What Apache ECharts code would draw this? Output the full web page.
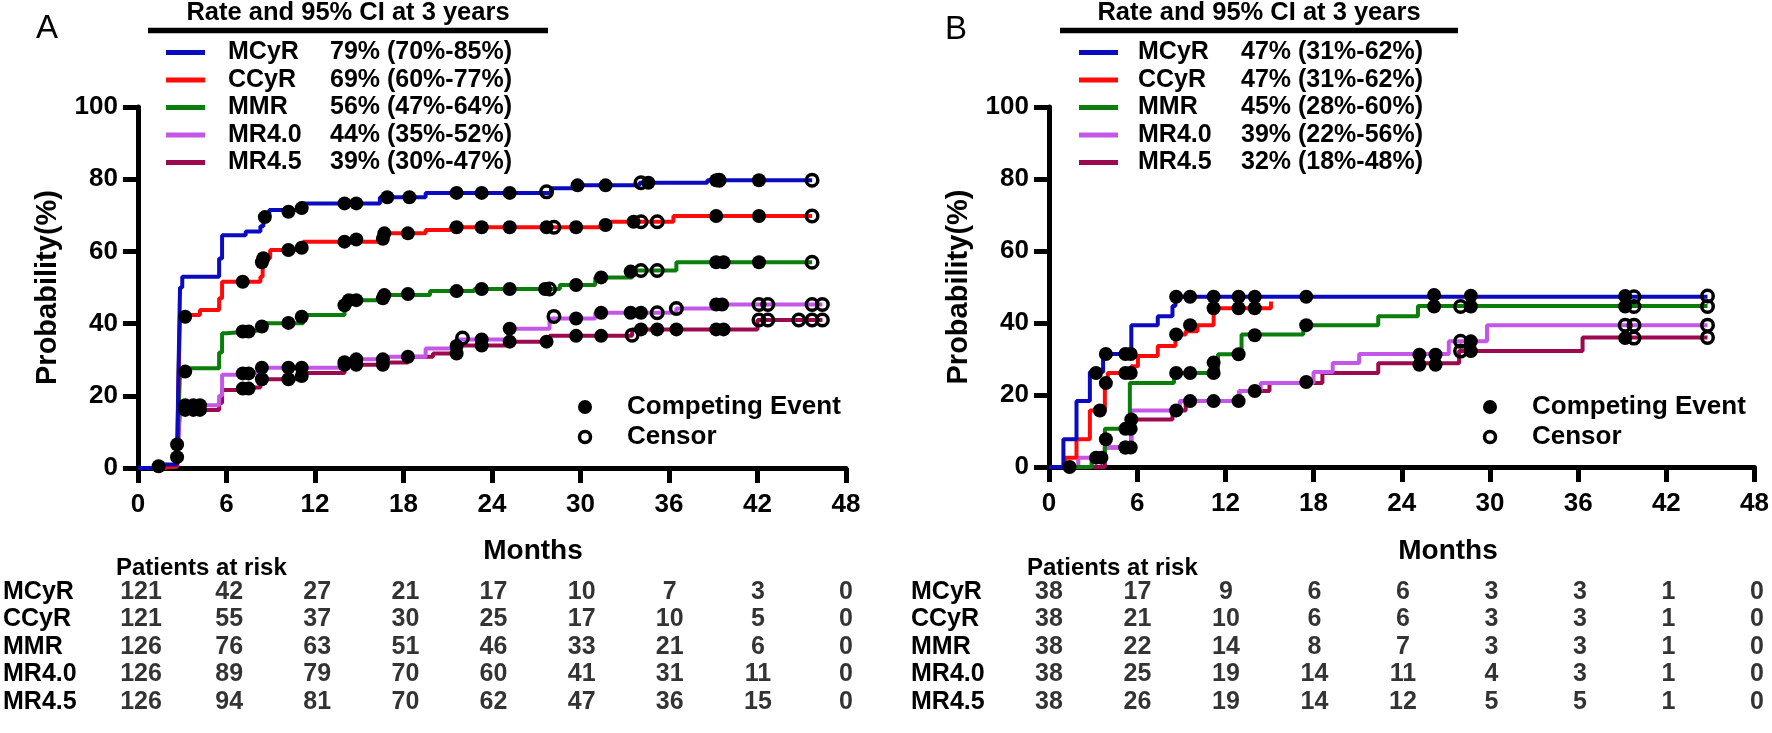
<!DOCTYPE html>
<html><head><meta charset="utf-8">
<script src="https://cdn.jsdelivr.net/npm/echarts@6/dist/echarts.min.js"></script>
<style>html,body{margin:0;padding:0;background:#fff}#c{width:1772px;height:733px}</style>
</head><body><div id="c"></div>
<script>
// ---------- data ----------
const groups = ['MCyR', 'CCyR', 'MMR', 'MR4.0', 'MR4.5'];
const groupColors = ['#0A0ABE', '#FF0A0A', '#0A7D0A', '#C457E8', '#9B0A4E'];
const xTicks = [0, 6, 12, 18, 24, 30, 36, 42, 48];
const rateA = ['79% (70%-85%)', '69% (60%-77%)', '56% (47%-64%)', '44% (35%-52%)', '39% (30%-47%)'];
const rateB = ['47% (31%-62%)', '47% (31%-62%)', '45% (28%-60%)', '39% (22%-56%)', '32% (18%-48%)'];

// Patients at risk (panel A)
const riskA_MCyR = [121, 42, 27, 21, 17, 10, 7, 3, 0];
const riskA_CCyR = [121, 55, 37, 30, 25, 17, 10, 5, 0];
const riskA_MMR  = [126, 76, 63, 51, 46, 33, 21, 6, 0];
const riskA_MR40 = [126, 89, 79, 70, 60, 41, 31, 11, 0];
const riskA_MR45 = [126, 94, 81, 70, 62, 47, 36, 15, 0];
// Patients at risk (panel B)
const riskB_MCyR = [38, 17, 9, 6, 6, 3, 3, 1, 0];
const riskB_CCyR = [38, 21, 10, 6, 6, 3, 3, 1, 0];
const riskB_MMR  = [38, 22, 14, 8, 7, 3, 3, 1, 0];
const riskB_MR40 = [38, 25, 19, 14, 11, 4, 3, 1, 0];
const riskB_MR45 = [38, 26, 19, 14, 12, 5, 5, 1, 0];

// ---- Panel A curves [month, %] ----
const A_MCyR_curve = [[0,0],[1.4,1],[2.65,3],[2.75,28],[2.85,50],[3.0,53],[5.5,58],[5.7,64.5],[7.3,65.5],[8.3,67],[8.5,70],[8.9,71.5],[11.1,73.3],[16.4,75],[19.5,76.2],[28,77.5],[30,78.3],[34,79],[38.6,79.7],[45.7,79.7]];
const A_MCyR_events = [[1.4,0.5],[2.65,3],[2.65,6.5],[8.6,69.5],[10.2,71],[11.1,72],[14.0,73.3],[14.8,73.3],[16.9,75],[18.4,75],[21.6,76.2],[23.3,76.2],[25.2,76.2],[29.8,78.3],[31.7,78.3],[34.6,79],[39.2,79.7],[42.1,79.7]];
const A_MCyR_censor = [[27.7,76.5],[34.1,79],[39.4,79.7],[45.7,79.7]];

const A_CCyR_curve = [[0,0],[1.4,0.5],[2.65,2],[2.75,25],[2.85,42.4],[4.2,43.8],[5.5,47],[5.7,51.6],[8.3,53],[8.45,58.1],[8.96,60.4],[11.2,62.7],[16.4,65],[19.5,65.9],[21.2,66.7],[31.8,68.2],[36.3,69.8],[45.7,69.8]];
const A_CCyR_events = [[3.2,41.9],[7.1,51.6],[8.4,57],[8.5,58.1],[10.2,60.4],[11.1,61],[14.0,62.7],[14.8,63.3],[16.6,63.5],[16.7,65],[18.3,65],[21.6,66.7],[23.3,66.7],[25.2,66.7],[27.7,66.7],[29.7,66.7],[31.7,67.3],[33.6,68.2],[39.2,69.8],[42.1,69.8]];
const A_CCyR_censor = [[28.2,66.7],[34.1,68.2],[35.2,68.2],[45.7,69.8]];

const A_MMR_curve = [[0,0],[1.4,0.5],[2.65,2],[2.75,15],[2.85,26.7],[3.4,27.6],[5.5,32],[5.7,37.3],[6.0,37.8],[7.5,38.3],[8.6,40.1],[11.2,42.4],[14.0,45.1],[14.3,46.5],[16.6,47.9],[19.8,49],[22.8,49.6],[28.6,50.7],[31.0,52.8],[33.5,54.7],[36.5,57.0],[45.7,57.0]];
const A_MMR_events = [[3.2,26.7],[7.1,37.8],[7.5,37.8],[8.4,39.2],[10.2,40.2],[11.1,41.9],[14.0,45.1],[14.3,46.5],[14.8,46.5],[16.6,47],[16.7,47.9],[18.3,48.2],[21.6,49],[23.3,49.6],[25.2,49.6],[27.6,49.6],[29.7,50.7],[31.4,52.8],[33.4,54.4],[39.2,57],[39.7,57],[42.1,57]];
const A_MMR_censor = [[27.9,49.6],[34.1,54.7],[35.2,54.7],[45.7,57]];

const A_MR40_curve = [[0,0],[1.4,0.5],[2.65,2],[2.75,10],[2.85,17.4],[5.5,20],[5.7,25.8],[6.8,26.4],[8.3,27.8],[14.0,29.3],[14.2,30.1],[16.9,30.8],[19.5,33.1],[21.6,35.6],[25.1,38.6],[27.9,41.4],[31.0,43.0],[36.5,44.2],[39.0,45.3],[46.4,45.3]];
const A_MR40_events = [[3.2,17.4],[3.75,17.4],[4.2,17.4],[7.1,26.2],[7.5,26.2],[8.4,27.8],[10.2,27.8],[11.1,27.8],[14.0,29.3],[14.8,30.1],[16.6,30.1],[18.3,30.8],[21.6,33.8],[23.3,35.6],[25.2,38.6],[29.7,41.4],[31.4,43],[33.4,43],[34.1,43],[39.2,45.3],[39.6,45.3]];
const A_MR40_censor = [[22.0,36],[28.2,42],[35.2,43],[36.5,44.2],[42.1,45.3],[42.7,45.3],[45.7,45.3],[46.4,45.3]];

const A_MR45_curve = [[0,0],[1.4,0.5],[2.65,2],[2.75,9],[2.85,16.1],[5.5,18],[5.7,21.6],[6.8,22.3],[8.3,24.6],[11.2,26.3],[14.0,28.6],[16.9,29.2],[18.3,30.8],[20.0,31.7],[21.5,33.9],[25.2,35.0],[27.9,36.6],[33.5,38.4],[42.0,41.0],[46.4,41.0]];
const A_MR45_events = [[3.2,16.1],[3.75,16.1],[4.2,16.1],[7.1,22],[7.5,22],[8.4,24.6],[10.2,24.6],[11.1,25.5],[14.0,28.6],[14.8,28.6],[16.6,28.6],[21.6,31.7],[23.3,33.9],[25.2,35],[27.7,35],[29.7,36.6],[31.4,36.6],[34.1,38.4],[35.2,38.4],[36.5,38.4],[39.2,38.4],[39.7,38.4]];
const A_MR45_censor = [[33.5,36.8],[42.1,41],[42.7,41],[44.8,41],[45.7,41],[46.4,41]];

// ---- Panel B curves ----
const B_MCyR_curve = [[0,0],[0.98,7.7],[1.87,18.3],[2.78,26.4],[3.68,31.4],[5.6,39.4],[7.4,41.9],[8.4,44.7],[8.6,47.3],[44.8,47.3]];
const B_MCyR_events = [[3.87,31.4],[5.2,31.4],[5.56,31.4],[8.65,47.3],[9.6,47.3],[11.2,47.3],[12.9,47.3],[14.0,47.3],[17.5,47.3],[26.2,47.8],[28.7,47.6],[39.2,47.5]];
const B_MCyR_censor = [[39.8,47.3],[44.8,47.5]];

const B_CCyR_curve = [[0,0],[1.08,2.6],[1.87,7.7],[2.78,15.7],[3.8,23.3],[4.0,26.1],[5.6,28],[6.05,30.8],[7.4,33.6],[8.6,36.8],[9.3,37.7],[10.1,39.4],[11.2,44.1],[15.1,46]];
const B_CCyR_events = [[3.2,26.1],[3.46,15.7],[3.87,23.3],[5.2,26.1],[5.56,26.1],[8.65,36.8],[9.6,39.4],[11.2,44.1],[12.9,44.1],[14.0,44.1]];
const B_CCyR_censor = [];

const B_MMR_curve = [[0,0],[2.9,2.6],[3.8,10.6],[5.5,23.3],[8.5,26.1],[11.5,31.3],[13.1,36.8],[17.3,39.4],[22.4,41.9],[25.1,44.7],[44.8,44.7]];
const B_MMR_events = [[1.4,0],[3.2,2.6],[3.57,2.6],[3.87,7.7],[5.2,10.6],[5.56,10.6],[5.6,13.2],[8.65,26.1],[9.6,26.1],[11.2,26.1],[11.2,29],[12.9,31.3],[14.0,36.6],[17.5,39.4],[26.2,44.6],[28.7,44.6],[39.2,44.6]];
const B_MMR_censor = [[28.0,44.6],[39.8,44.6],[44.8,44.6]];

const B_MR40_curve = [[0,0],[1.99,2.6],[3.8,5.4],[5.6,15.7],[8.9,18.3],[12.95,21.1],[14.4,23.3],[18.0,26.4],[19.3,28.9],[21.1,31.4],[27.2,34.9],[29.8,39.4],[44.8,39.4]];
const B_MR40_events = [[5.2,5.4],[5.56,5.4],[8.65,15.7],[9.6,18.3],[11.2,18.3],[12.9,18.3],[14.0,21.1],[17.5,23.6],[25.2,31.2],[26.3,31.2],[28.7,34.9]];
const B_MR40_censor = [[28.0,34.9],[39.2,39.4],[39.8,39.4],[44.8,39.4]];

const B_MR45_curve = [[0,0],[3.8,5.4],[5.6,13.2],[8.4,15.7],[9.3,18.3],[12.95,21.1],[15.0,23.3],[18.6,26.1],[22.4,28.8],[27.9,32.2],[36.3,36.0],[44.8,36.0]];
const B_MR45_events = [[5.2,5.4],[25.2,28.4],[26.3,28.4],[28.7,32.2],[39.2,35.8]];
const B_MR45_censor = [[28.0,32.2],[39.8,35.8],[44.8,36.0]];

// ---------- build ----------
const FONT = '"Liberation Sans", Arial, sans-serif';
const curvesA = [A_MCyR_curve, A_CCyR_curve, A_MMR_curve, A_MR40_curve, A_MR45_curve];
const eventsA = [A_MCyR_events, A_CCyR_events, A_MMR_events, A_MR40_events, A_MR45_events];
const censorA = [A_MCyR_censor, A_CCyR_censor, A_MMR_censor, A_MR40_censor, A_MR45_censor];
const curvesB = [B_MCyR_curve, B_CCyR_curve, B_MMR_curve, B_MR40_curve, B_MR45_curve];
const eventsB = [B_MCyR_events, B_CCyR_events, B_MMR_events, B_MR40_events, B_MR45_events];
const censorB = [B_MCyR_censor, B_CCyR_censor, B_MMR_censor, B_MR40_censor, B_MR45_censor];
const riskA = [riskA_MCyR, riskA_CCyR, riskA_MMR, riskA_MR40, riskA_MR45];
const riskB = [riskB_MCyR, riskB_CCyR, riskB_MMR, riskB_MR40, riskB_MR45];

const PLOT_TOP = 107, PLOT_H = 361, PLOT_W = 708;
const LEFT_A = 138, LEFT_B = 1049;

function plotXAxis(gi) {
  return {
    gridIndex: gi, type: 'value', min: 0, max: 48, interval: 6,
    axisLine: { show: true, lineStyle: { color: '#000', width: 5 } },
    axisTick: { show: true, length: 15, lineStyle: { color: '#000', width: 5 } },
    axisLabel: { color: '#000', fontSize: 26, fontWeight: 'bold', fontFamily: FONT, margin: 24 },
    splitLine: { show: false }
  };
}
function plotYAxis(gi) {
  return {
    gridIndex: gi, type: 'value', min: 0, max: 100, interval: 20,
    axisLine: { show: true, lineStyle: { color: '#000', width: 5 } },
    axisTick: { show: true, length: 15, lineStyle: { color: '#000', width: 5 } },
    axisLabel: { color: '#000', fontSize: 26, fontWeight: 'bold', fontFamily: FONT, margin: 20 },
    splitLine: { show: false },
    name: 'Probability(%)', nameLocation: 'middle', nameGap: 76, nameRotate: 90,
    nameTextStyle: { color: '#000', fontSize: 29, fontWeight: 'bold', fontFamily: FONT }
  };
}
function tableXAxis(gi) {
  return { gridIndex: gi, type: 'value', min: 0, max: 48, show: false };
}
function tableYAxis(gi) {
  return {
    gridIndex: gi, type: 'category', data: groups, inverse: true,
    axisLine: { show: false }, axisTick: { show: false }, splitLine: { show: false },
    axisLabel: { interval: 0, align: 'left', margin: 138, color: '#000', fontSize: 25, fontWeight: 'bold', fontFamily: FONT }
  };
}

const series = [];
function addPanel(gi, curves, events, censors) {
  for (let i = groups.length - 1; i >= 0; i--) {
    series.push({
      type: 'line', xAxisIndex: gi, yAxisIndex: gi, data: curves[i], step: 'end',
      showSymbol: false, symbol: 'none', clip: false, silent: true, z: 2,
      lineStyle: { color: groupColors[i], width: 4 }
    });
  }
  for (let i = 0; i < groups.length; i++) {
    series.push({
      type: 'scatter', xAxisIndex: gi, yAxisIndex: gi, data: events[i], symbol: 'circle',
      symbolSize: 14, clip: false, silent: true, z: 4, itemStyle: { color: '#000', opacity: 1 }
    });
    series.push({
      type: 'scatter', xAxisIndex: gi, yAxisIndex: gi, data: censors[i], symbol: 'circle',
      symbolSize: 11.5, clip: false, silent: true, z: 5,
      itemStyle: { color: 'rgba(0,0,0,0)', borderColor: '#000', borderWidth: 3.5, opacity: 1 }
    });
  }
}
function addTable(gi, risk) {
  const data = [];
  risk.forEach((row, r) => row.forEach((v, k) => data.push([xTicks[k], r, v])));
  series.push({
    type: 'scatter', xAxisIndex: gi, yAxisIndex: gi, data, symbolSize: 1, silent: true,
    itemStyle: { color: 'rgba(0,0,0,0)' },
    label: { show: true, position: 'inside', formatter: p => String(p.value[2]),
      color: '#000', fontSize: 25, fontWeight: 'bold', fontFamily: FONT }
  });
}
addPanel(0, curvesA, eventsA, censorA);
addPanel(1, curvesB, eventsB, censorB);
addTable(2, riskA);
addTable(3, riskB);

// legend/graphics
const graphic = [];
function txt(x, y, text, size, weight, align) {
  graphic.push({ type: 'text', x, y, silent: true,
    style: { text, fill: '#000', font: (weight || 'bold') + ' ' + size + 'px ' + FONT, align: align || 'left', verticalAlign: 'middle' } });
}
const legendRowsY = [52.5, 80, 107.5, 135, 162.5];
function panelLegend(p) {
  txt(p.letterX, p.letterY, p.letter, 33, 'normal', 'center');
  txt(p.titleX, 13, 'Rate and 95% CI at 3 years', 25.5, 'bold', 'center');
  graphic.push({ type: 'line', silent: true, shape: { x1: p.ulX1, y1: 30.5, x2: p.ulX2, y2: 30.5 }, style: { stroke: '#000', lineWidth: 5.5 } });
  groups.forEach((g, i) => {
    const y = legendRowsY[i];
    graphic.push({ type: 'line', silent: true, shape: { x1: p.lnX1, y1: y, x2: p.lnX2, y2: y }, style: { stroke: groupColors[i], lineWidth: 5 } });
    txt(p.nameX, y, g, 25, 'bold', 'left');
    txt(p.valX, y, p.rates[i], 25, 'bold', 'left');
  });
  // competing event / censor key
  graphic.push({ type: 'circle', silent: true, shape: { cx: p.keyX, cy: 407, r: 7 }, style: { fill: '#000' } });
  graphic.push({ type: 'circle', silent: true, shape: { cx: p.keyX, cy: 437, r: 5.5 }, style: { fill: 'none', stroke: '#000', lineWidth: 3.5 } });
  txt(p.keyX + 42, 407, 'Competing Event', 26, 'bold', 'left');
  txt(p.keyX + 42, 437, 'Censor', 26, 'bold', 'left');
  txt(p.monthsX, 551, 'Months', 28, 'bold', 'center');
  txt(p.parX, 568, 'Patients at risk', 24, 'bold', 'left');
}
panelLegend({ letter: 'A', letterX: 47, letterY: 29, titleX: 348, ulX1: 148, ulX2: 548, lnX1: 166, lnX2: 205,
  nameX: 228, valX: 330, rates: rateA, keyX: 585, monthsX: 533, parX: 116 });
panelLegend({ letter: 'B', letterX: 956, letterY: 30, titleX: 1259, ulX1: 1060, ulX2: 1458, lnX1: 1079, lnX2: 1118,
  nameX: 1138, valX: 1241, rates: rateB, keyX: 1490, monthsX: 1448, parX: 1027 });

const chart = echarts.init(document.getElementById('c'), null, { renderer: 'canvas' });
chart.setOption({
  animation: false,
  backgroundColor: '#fff',
  grid: [
    { left: LEFT_A, top: PLOT_TOP, width: PLOT_W, height: PLOT_H },
    { left: LEFT_B, top: PLOT_TOP, width: PLOT_W, height: PLOT_H - 1 },
    { left: LEFT_A, top: 578, width: PLOT_W, height: 138 },
    { left: LEFT_B, top: 578, width: PLOT_W, height: 138 }
  ],
  xAxis: [plotXAxis(0), plotXAxis(1), tableXAxis(2), tableXAxis(3)],
  yAxis: [plotYAxis(0), plotYAxis(1), tableYAxis(2), tableYAxis(3)],
  series,
  graphic
});
</script>
</body></html>
